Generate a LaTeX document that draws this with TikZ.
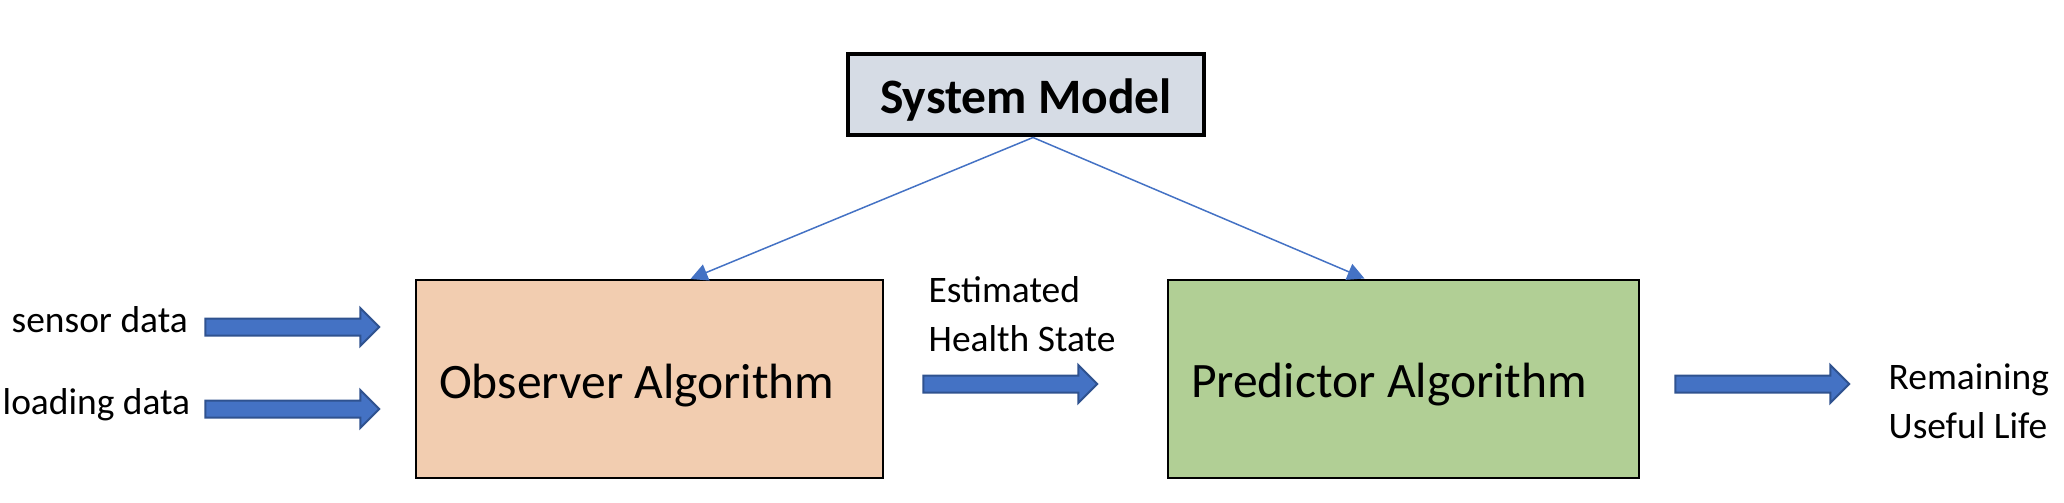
\documentclass[tikz,border=0pt]{standalone}
\usepackage{fontspec}
\setmainfont{Carlito}
\usetikzlibrary{shapes.arrows,arrows.meta}
\definecolor{modelgray}{HTML}{D6DCE5}
\definecolor{observerorange}{HTML}{F2CDB0}
\definecolor{predictorgreen}{HTML}{B1CF95}
\definecolor{arrowblue}{HTML}{4472C4}
\definecolor{arrowedge}{HTML}{2F528F}
\begin{document}
\begin{tikzpicture}[
    algobox/.style={draw=black, line width=0.02cm, minimum height=1.98cm, inner xsep=0.23cm,
        align=flush left, text height=0.38cm, text depth=0cm, font=\fontsize{14.1}{17}\selectfont},
    fatarrow/.style={single arrow, draw=arrowedge, fill=arrowblue, line width=0.02cm,
        minimum height=1.74cm, single arrow head extend=0.105cm, inner xsep=0pt, inner ysep=0.075cm},
    modelarrow/.style={draw=arrowblue, line width=0.015cm, -{Triangle[length=0.17cm,width=0.17cm]}},
    smalltext/.style={font=\fontsize{10.65}{14}\selectfont, inner sep=0pt, align=flush left}
]
    \useasboundingbox (0,0) rectangle (20.64,5.02);
    \node [draw=black, line width=0.04cm, fill=modelgray, minimum width=3.56cm, minimum height=0.81cm,
        text height=0.38cm, text depth=0cm, font=\fontsize{14.1}{17}\selectfont\bfseries] (model) at (10.26,4.07) {System Model};
    \node [algobox, fill=observerorange, text width=4.21cm] (observer) at (6.495,1.23) {Observer Algorithm};
    \node [algobox, fill=predictorgreen, text width=4.25cm] (predictor) at (14.035,1.235) {Predictor Algorithm};
    \node [smalltext, anchor=base west] (sensor) at (0.11,1.70) {sensor data};
    \node [smalltext, anchor=base west] (loading) at (0.02,0.88) {loading data};
    \node [smalltext, anchor=west] (health) at (9.28,1.88) {Estimated\\Health State};
    \node [smalltext, anchor=west] (rul) at (18.88,1.01) {Remaining\\Useful Life};
    \node [fatarrow] (sensorarrow) at (2.88,1.75) {};
    \node [fatarrow] (loadingarrow) at (2.88,0.93) {};
    \node [fatarrow] (healtharrow) at (10.06,1.18) {};
    \node [fatarrow] (rularrow) at (17.58,1.18) {};
    \draw [modelarrow] ([xshift=0.07cm]model.south) -- ([xshift=0.41cm]observer.north);
    \draw [modelarrow] ([xshift=0.07cm]model.south) -- ([xshift=-0.39cm]predictor.north);
\end{tikzpicture}
\end{document}
